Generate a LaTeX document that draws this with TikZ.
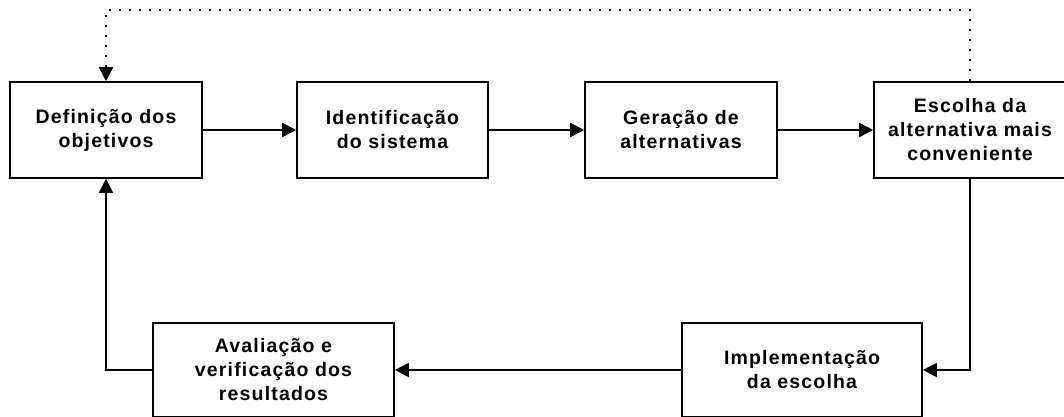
\documentclass[tikz,border=0pt]{standalone}
\usepackage{fontspec}
\setmainfont{Liberation Sans}
\usetikzlibrary{arrows.meta}
\begin{document}
\begin{tikzpicture}[x=1pt,y=-1pt,
  box/.style={draw, line width=1.6pt, rectangle, align=center, inner sep=0pt,
    font=\fontsize{19.5}{24}\selectfont\bfseries\addfontfeature{LetterSpace=6}},
  conn/.style={line width=1.6pt, -{Triangle[length=14pt,width=14pt]}},
  dotconn/.style={line width=1.8pt, dash pattern=on 2pt off 8pt, -{Triangle[length=14pt,width=14pt]}}]
\clip (0,0) rectangle (1064,416);
\fill[white] (0,0) rectangle (1064,416);
\node[box, minimum width=192pt, minimum height=96pt] (b1) at (106,130) {Definição dos\\objetivos};
\node[box, minimum width=191pt, minimum height=96pt] (b2) at (392.5,130) {Identificação\\do sistema};
\node[box, minimum width=192pt, minimum height=96pt] (b3) at (681,130) {Geração de\\alternativas};
\node[box, minimum width=192pt, minimum height=96pt] (b4) at (970,130) {Escolha da\\alternativa mais\\conveniente};
\node[box, minimum width=241pt, minimum height=94pt] (b5) at (273.5,370) {Avaliação e\\verificação dos\\resultados};
\node[box, minimum width=240pt, minimum height=94pt] (b6) at (802,370) {Implementação\\da escolha};
\coordinate (top) at (0,10);
\draw[conn] (b1) -- (b2);
\draw[conn] (b2) -- (b3);
\draw[conn] (b3) -- (b4);
\draw[conn] (b4.south) |- (b6.east);
\draw[conn] (b6) -- (b5);
\draw[conn] (b5.west) -| (b1.south);
\draw[dotconn] (b4.north) |- (top -| b1.north) -- (b1.north);
\end{tikzpicture}
\end{document}
